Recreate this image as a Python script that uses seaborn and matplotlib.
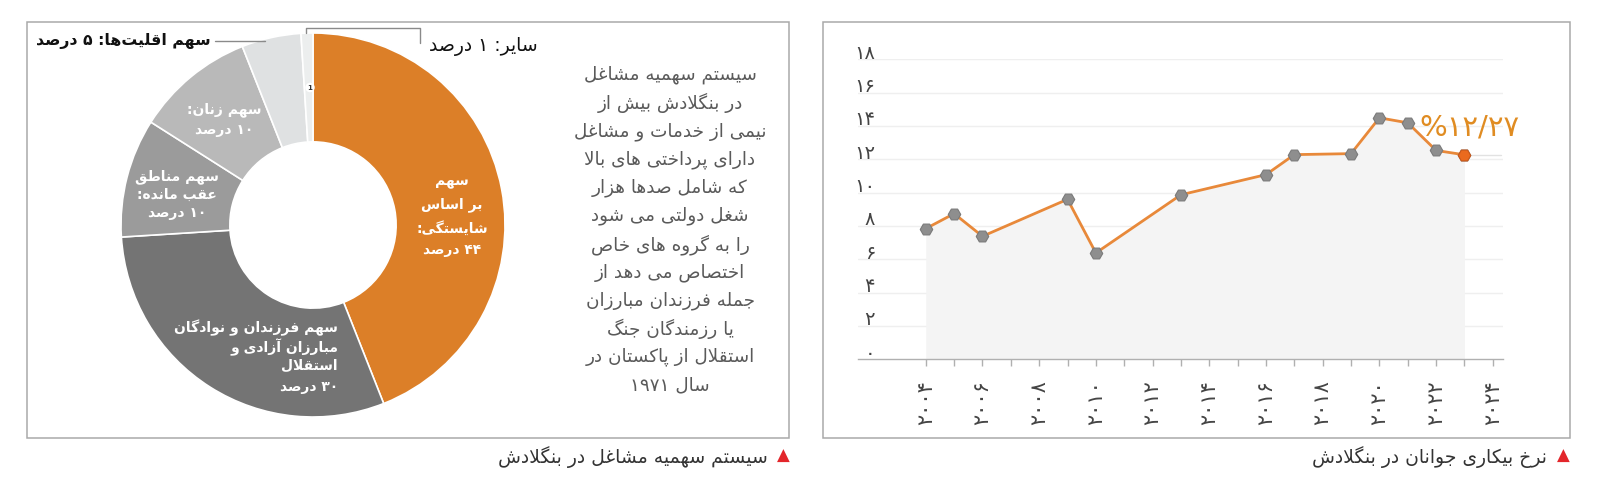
import re
import matplotlib
matplotlib.use("Agg")
import matplotlib.pyplot as plt
from matplotlib.patches import Rectangle
from matplotlib.lines import Line2D
from matplotlib.transforms import ScaledTranslation
import seaborn as sns

# ---------------- data ----------------
years = [2004, 2005, 2006, 2009, 2010, 2013, 2016, 2017, 2019, 2020, 2021, 2022, 2023]
youth_unemp = [7.84, 8.74, 7.38, 9.60, 6.38, 9.87, 11.08, 12.28, 12.34, 14.49, 14.19, 12.53, 12.27]
year_ticks = list(range(2004, 2025, 2))
y_ticks = list(range(0, 19, 2))
last_label = "%۱۲/۲۷"

quota_share = [44, 30, 10, 10, 5, 1]
quota_colors = ["#dc7f28", "#747474", "#9b9b9b", "#b9b9b9", "#dfe1e2", "#eceeee"]
quota_text = [
    "سهم\nبر اساس\nشایستگی:\n۴۴ درصد",
    "سهم فرزندان و نوادگان\nمبارزان آزادی و\nاستقلال\n۳۰ درصد",
    "سهم مناطق\nعقب مانده:\n۱۰ درصد",
    "سهم زنان:\n۱۰ درصد",
]
minority_text = "سهم اقلیت‌ها: ۵ درصد"
other_text = "سایر: ۱ درصد"

paragraph = [
    "سیستم سهمیه مشاغل",
    "در بنگلادش بیش از",
    "نیمی از خدمات و مشاغل",
    "دارای پرداختی های بالا",
    "که شامل صدها هزار",
    "شغل دولتی می شود",
    "را به گروه های خاص",
    "اختصاص می دهد از",
    "جمله فرزندان مبارزان",
    "یا رزمندگان جنگ",
    "استقلال از پاکستان در",
    "سال ۱۹۷۱",
]
caption_left = "سیستم سهمیه مشاغل در بنگلادش"
caption_right = "نرخ بیکاری جوانان در بنگلادش"

FA_DIGITS = "۰۱۲۳۴۵۶۷۸۹"

# ------------- persian shaping (matplotlib has no bidi / joining) -------------
DUAL = {'ب': 0xFE8F, 'پ': 0xFB56, 'ت': 0xFE95, 'ث': 0xFE99, 'ج': 0xFE9D, 'چ': 0xFB7A,
        'ح': 0xFEA1, 'خ': 0xFEA5, 'س': 0xFEB1, 'ش': 0xFEB5, 'ص': 0xFEB9, 'ض': 0xFEBD,
        'ط': 0xFEC1, 'ظ': 0xFEC5, 'ع': 0xFEC9, 'غ': 0xFECD, 'ف': 0xFED1, 'ق': 0xFED5,
        'ک': 0xFB8E, 'گ': 0xFB92, 'ل': 0xFEDD, 'م': 0xFEE1, 'ن': 0xFEE5, 'ه': 0xFEE9,
        'ی': 0xFBFC, 'ئ': 0xFE89}
RIGHT = {'ا': 0xFE8D, 'آ': 0xFE81, 'د': 0xFEA9, 'ذ': 0xFEAB, 'ر': 0xFEAD, 'ز': 0xFEAF,
         'ژ': 0xFB8A, 'و': 0xFEED}


def shape(s):
    out = []
    i = 0
    n = len(s)
    while i < n:
        c = s[i]
        prev = i > 0 and s[i - 1] in DUAL
        if c == 'ل' and i + 1 < n and s[i + 1] in 'اآ':
            base = 0xFEFB if s[i + 1] == 'ا' else 0xFEF5
            out.append(chr(base + (1 if prev else 0)))
            i += 2
            continue
        if c in RIGHT:
            out.append(chr(RIGHT[c] + (1 if prev else 0)))
        elif c in DUAL:
            nxt = i + 1 < n and (s[i + 1] in DUAL or s[i + 1] in RIGHT)
            form = {(False, False): 0, (True, False): 1, (False, True): 2, (True, True): 3}[(prev, nxt)]
            out.append(chr(DUAL[c] + form))
        else:
            out.append(c)
        i += 1
    return ''.join(out).replace('\u200c', '')


def fa(text):
    res = []
    for line in text.split('\n'):
        s = shape(line)
        runs = re.findall(r'[0-9۰-۹/]+|[^0-9۰-۹/]+', s)
        res.append(''.join(r if r[0] in '0123456789' + FA_DIGITS else r[::-1] for r in reversed(runs)))
    return '\n'.join(res)


def fa_num(v):
    return ''.join(FA_DIGITS[int(d)] for d in str(v))


# ---------------- figure ----------------
W, H = 1600, 492
sns.set_theme(style="white")
plt.rcParams['font.family'] = ['DejaVu Sans']
fig = plt.figure(figsize=(W / 100, H / 100), dpi=100)


def fx(px):
    return px / W


def fy(py):
    return 1 - py / H


def put(px, py, s, **kw):
    fig.text(fx(px), fy(py), fa(s), **kw)


# panel frames
for x0, y0, x1, y1 in [(26.7, 21.7, 789.3, 437.7), (823.3, 21.7, 1570, 438)]:
    fig.add_artist(Rectangle((fx(x0), fy(y1)), fx(x1) - fx(x0), fy(y0) - fy(y1),
                             transform=fig.transFigure, fill=False, edgecolor="#a9a9a9", lw=1.1))

# ---------------- donut ----------------
cx, cy, R = 313, 225, 192
axd = fig.add_axes([fx(cx - R), fy(cy + R), 2 * R / W, 2 * R / H])
axd.pie(quota_share, colors=quota_colors, startangle=90, counterclock=False, radius=1,
        wedgeprops=dict(width=0.567, edgecolor="white", linewidth=1.2))
axd.set_aspect('auto')
axd.set_xlim(-1, 1)
axd.set_ylim(-1, 1)
axd.axis('off')


def dx(px):
    return (px - cx) / R


def dy(py):
    return (cy - py) / R


def put_lines(ax, px, py_list, text, ha, **kw):
    for line, py in zip(text.split('\n'), py_list):
        ax.text(dx(px), dy(py), fa(line), ha=ha, va='center', **kw)


lbl = dict(color="white", fontsize=10, fontweight="bold")
put_lines(axd, 452, [182, 205, 228, 250], quota_text[0], 'center', **lbl)
put_lines(axd, 338, [328, 347, 366, 387], quota_text[1], 'right', **lbl)
put_lines(axd, 177, [177, 195, 213], quota_text[2], 'center', **lbl)
put_lines(axd, 224, [110, 130], quota_text[3], 'center', **lbl)
axd.text(dx(310), dy(87.5), "1", fontsize=5, fontweight="bold", ha="center", va="center", color="#333",
         bbox=dict(boxstyle="circle,pad=0.25", fc="white", ec="none"))

# outside labels and leader lines
put(211, 41, minority_text, ha="right", va="center", fontsize=11.3, fontweight="bold", color="#111")
fig.add_artist(Line2D([fx(215), fx(265)], [fy(41), fy(41)], transform=fig.transFigure, color="#8a8a8a", lw=1))
put(538, 46, other_text, ha="right", va="center", fontsize=13.5, color="#111")
fig.add_artist(Line2D([fx(306), fx(306), fx(420), fx(420)], [fy(33), fy(28.3), fy(28.3), fy(43)],
                      transform=fig.transFigure, color="#8a8a8a", lw=1))

# paragraph
for k, line in enumerate(paragraph):
    put(670, 75 + 28.2 * k, line, ha="center", va="center", fontsize=13.2, color="#5a5a5a")

# ---------------- line chart ----------------
x_left, x_right, y_base = 858, 1503, 359.3
axl = fig.add_axes([fx(x_left), fy(y_base), (x_right - x_left) / W, 300 / H])
axl.set_xlim(2001.61, 2024.36)
axl.set_ylim(0, 18)
for v in y_ticks[1:]:
    axl.axhline(v, color="#efefef", lw=1, zorder=0)
axl.fill_between(years, youth_unemp, 0, color="#f4f4f4", lw=0, zorder=1)
sns.lineplot(x=years, y=youth_unemp, ax=axl, color="#e8893a", lw=2, marker="H", markersize=9,
             markerfacecolor="#8e8e8e", markeredgecolor="#7a7a7a", markeredgewidth=0.8, zorder=3)
axl.plot([years[-1], 2024.3], [youth_unemp[-1]] * 2, color="#e2e2e2", lw=1, zorder=2)
axl.plot(years[-1], youth_unemp[-1], marker="H", markersize=9, color="#ea6a1e",
         markeredgecolor="#c9581a", markeredgewidth=0.8, zorder=4)
axl.text(2021.4, 13.9, last_label, fontsize=21, color="#e08c22", ha="left", va="center")

axl.set_xticks(year_ticks)
axl.set_xticks(range(2004, 2025), minor=True)
axl.set_xticklabels([fa_num(y) for y in year_ticks], rotation=90)
axl.set_yticks(y_ticks)
axl.set_yticklabels([fa_num(v) for v in y_ticks])
axl.tick_params(axis="x", which="both", bottom=True, length=5, width=1, color="#b0b0b0",
                direction="out", pad=10, labelsize=15, labelcolor="#444")
axl.tick_params(axis="y", length=0, pad=0, labelsize=14, labelcolor="#444")
shift = ScaledTranslation(17 / 100, 8 / 100, fig.dpi_scale_trans)
for t in axl.get_yticklabels():
    t.set_transform(t.get_transform() + shift)
for side in ["left", "right", "top"]:
    axl.spines[side].set_visible(False)
axl.spines["bottom"].set_color("#b0b0b0")
axl.spines["bottom"].set_linewidth(1)
axl.set_xlabel("")
axl.set_ylabel("")
axl.patch.set_alpha(0)

# ---------------- captions ----------------
put(768, 457, caption_left, ha="right", va="center", fontsize=13.5, color="#333")
fig.text(fx(783), fy(456), "▲", ha="center", va="center", fontsize=12, color="#e3262b")
put(1547, 457, caption_right, ha="right", va="center", fontsize=13.5, color="#333")
fig.text(fx(1563), fy(456), "▲", ha="center", va="center", fontsize=12, color="#e3262b")

fig.savefig("out.png", dpi=100)
